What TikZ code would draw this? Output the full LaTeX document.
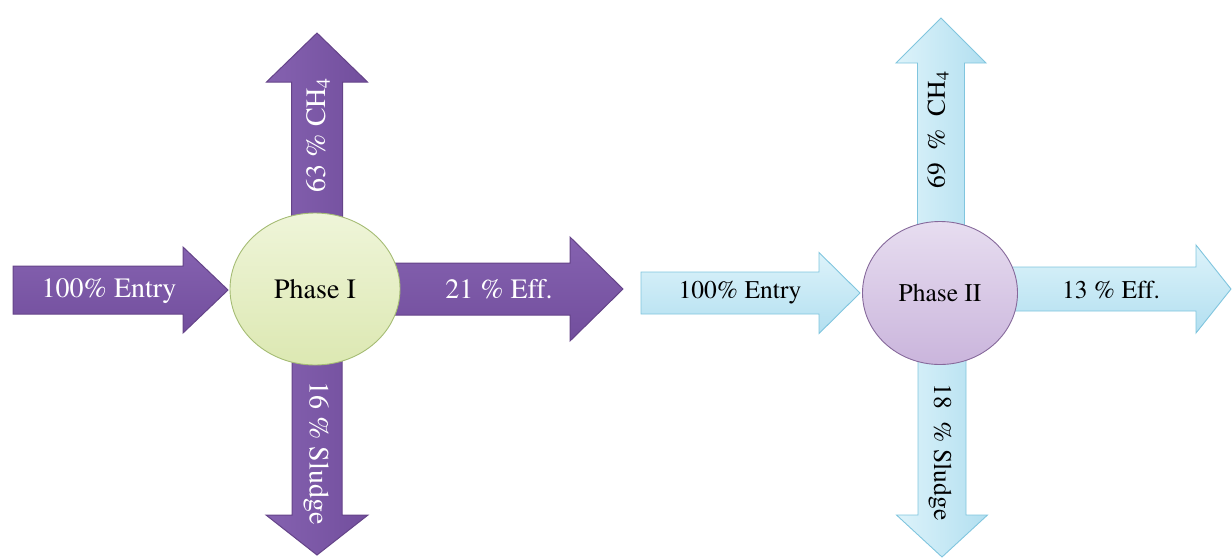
\documentclass[tikz,border=0pt]{standalone}
\usepackage[T1]{fontenc}
\renewcommand\rmdefault{ptm}
\usetikzlibrary{shapes.geometric}
\definecolor{ptop}{HTML}{8562B0}
\definecolor{pbot}{HTML}{724E9D}
\definecolor{pedge}{HTML}{654489}
\definecolor{btop}{HTML}{DDF3FA}
\definecolor{bbot}{HTML}{B2DFF0}
\definecolor{bedge}{HTML}{80C5DE}
\definecolor{gtop}{HTML}{EFF5D9}
\definecolor{gbot}{HTML}{DCE8B2}
\definecolor{gedge}{HTML}{A5BC74}
\definecolor{ltop}{HTML}{E7DDF0}
\definecolor{lbot}{HTML}{CAB5DC}
\definecolor{ledge}{HTML}{86699B}
\newcommand\myArrH[7]{%
  \path[#1] (#2,#5-#6) -- (#3,#5-#6) -- (#3,#5-#7) -- (#4,#5) -- (#3,#5+#7) -- (#3,#5+#6) -- (#2,#5+#6) -- cycle;}
\newcommand\myArrV[7]{%
  \path[#1] (#5-#6,#2) -- (#5-#6,#3) -- (#5-#7,#3) -- (#5,#4) -- (#5+#7,#3) -- (#5+#6,#3) -- (#5+#6,#2) -- cycle;}
\begin{document}
\begin{tikzpicture}[x=1pt,y=-1pt,
  parrowH/.style={top color=ptop, bottom color=pbot, draw=pedge, line width=1pt, line join=miter},
  parrowV/.style={left color=ptop, right color=pbot, draw=pedge, line width=1pt, line join=miter},
  barrowH/.style={top color=btop, bottom color=bbot, draw=bedge, line width=0.9pt, line join=miter},
  barrowV/.style={left color=btop, right color=bbot, draw=bedge, line width=0.9pt, line join=miter},
  ptext/.style={text=white, inner sep=0pt, font=\rmfamily\fontsize{28}{32}\selectfont},
  btext/.style={text=black, inner sep=0pt, font=\rmfamily\fontsize{25.5}{30}\selectfont},
  phaseone/.style={ellipse, draw=gedge, line width=0.9pt, top color=gtop, bottom color=gbot,
     minimum width=170pt, minimum height=152pt, inner sep=0pt, font=\rmfamily\fontsize{28}{32}\selectfont},
  phasetwo/.style={ellipse, draw=ledge, line width=0.9pt, top color=ltop, bottom color=lbot,
     minimum width=155pt, minimum height=143pt, inner sep=0pt, font=\rmfamily\fontsize{25.5}{30}\selectfont}]
\useasboundingbox (0,0) rectangle (1232,558);
% Phase I arrows
\myArrH{parrowH}{13}{183}{228}{290}{24}{43}
\myArrH{parrowH}{392}{570}{623}{289}{26}{52}
\myArrV{parrowV}{222}{82}{33}{317}{25.5}{50.5}
\myArrV{parrowV}{356}{515}{555}{317}{25}{51}
% Phase II arrows
\myArrH{barrowH}{641}{819}{860}{293}{21}{40.5}
\myArrH{barrowH}{1010}{1196}{1231}{289}{22}{44}
\myArrV{barrowV}{230}{63}{18}{941}{23.5}{45}
\myArrV{barrowV}{358}{515}{557}{942}{24}{45.5}
% circles
\node[phaseone] (p1) at (315,289) {Phase I};
\node[phasetwo] (p2) at (940,293) {Phase II};
% Phase I labels
\node[ptext] (e1) at (109,291) {100\% Entry};
\node[ptext] (f1) at (499,289) {21 \% Eff.};
\node[ptext, rotate=90] (c1) at (318,135) {63 \% CH\textsubscript{4}};
\node[ptext, rotate=-90] (s1) at (316,453) {16 \% Sludge};
% Phase II labels
\node[btext] (e2) at (740,293) {100\% Entry};
\node[btext] (f2) at (1111,290) {13 \% Eff.};
\node[btext, rotate=90] (c2) at (938,130) {69\ \ \%\ \ CH\textsubscript{4}};
\node[btext, rotate=-90] (s2) at (940,452) {18\ \ \% Sludge};
\end{tikzpicture}
\end{document}
